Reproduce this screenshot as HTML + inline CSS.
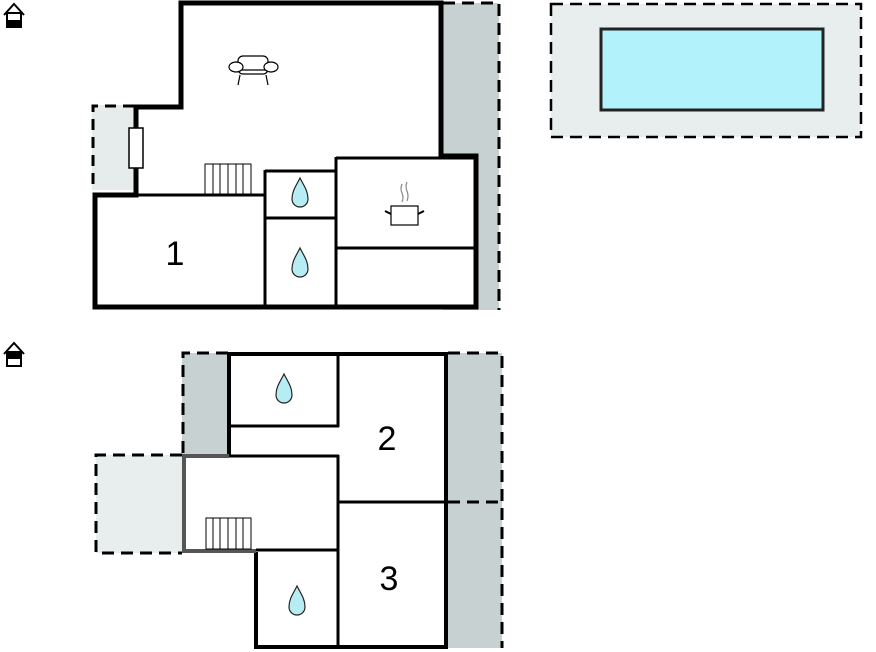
<!DOCTYPE html>
<html><head><style>
html,body{margin:0;padding:0;background:#fff;}
svg{display:block;}
text{font-family:"Liberation Sans",sans-serif;}
</style></head><body>
<svg width="876" height="652" viewBox="0 0 876 652" xmlns="http://www.w3.org/2000/svg">
<defs>
<path id="drop" d="M0,-16 C4,-8 8,-3 8,5 A8,8 0 0 1 -8,5 C-8,-3 -4,-8 0,-16 Z" fill="#b6ecf4" stroke="#222" stroke-width="1.2"/>
</defs>
<!-- home icons -->
<g fill="none" stroke="#000" stroke-width="2">
<polyline points="4,15 14,4 24,15"/>
<rect x="7" y="13" width="14" height="14" fill="#fff"/>
<polyline points="4,354 14,343 24,354"/>
<rect x="7" y="352" width="14" height="14" fill="#fff"/>
</g>
<rect x="7" y="20" width="14" height="7" fill="#000"/>
<rect x="7" y="352" width="14" height="7" fill="#000"/>

<!-- TOP PLAN -->
<rect x="443" y="3" width="56" height="307" fill="#c8d1d1"/>
<path d="M443,3 H499 V310" fill="none" stroke="#000" stroke-width="3" stroke-dasharray="12,7"/>
<rect x="92" y="105" width="42" height="85" fill="#e6ecec"/>
<path d="M134,106 H93 V190" fill="none" stroke="#000" stroke-width="3" stroke-dasharray="11,7"/>
<path d="M181,3 H441 V156 H476 V307 H95 V195 H136 V107 H181 Z" fill="#fff" stroke="#000" stroke-width="5"/>
<rect x="129" y="128" width="14" height="40" fill="#fff" stroke="#000" stroke-width="1.5"/>
<g stroke="#000" stroke-width="3" fill="none">
<line x1="95" y1="195" x2="265" y2="195"/>
<line x1="265" y1="170" x2="265" y2="307"/>
<line x1="265" y1="171" x2="336" y2="171"/>
<line x1="265" y1="218" x2="336" y2="218"/>
<line x1="336" y1="157" x2="336" y2="307"/>
<line x1="336" y1="158" x2="476" y2="158"/>
<line x1="336" y1="248" x2="476" y2="248"/>
</g>
<g stroke="#000" stroke-width="1" fill="#fff">
<rect x="205" y="164" width="46" height="30"/>
<line x1="213" y1="164" x2="213" y2="194"/><line x1="220" y1="164" x2="220" y2="194"/>
<line x1="228" y1="164" x2="228" y2="194"/><line x1="236" y1="164" x2="236" y2="194"/>
<line x1="243" y1="164" x2="243" y2="194"/>
</g>
<use href="#drop" x="300" y="194"/>
<use href="#drop" x="300" y="264"/>
<g stroke="#000" stroke-width="1.2" fill="#fff">
<rect x="238" y="56" width="30" height="18" rx="5"/>
<line x1="238" y1="70" x2="268" y2="70"/>
<ellipse cx="236" cy="67" rx="7" ry="5"/>
<ellipse cx="271" cy="67" rx="7" ry="5"/>
<line x1="240" y1="75" x2="238" y2="85"/><line x1="266" y1="75" x2="268" y2="85"/>
</g>
<g stroke="#000" stroke-width="1.2" fill="#fff">
<rect x="391" y="206" width="27" height="19"/>
<line x1="385" y1="211" x2="391" y2="214" stroke-width="2"/>
<line x1="424" y1="211" x2="418" y2="214" stroke-width="2"/>
<path d="M402,184 q-2,5 0,9 q2,5 0,9 M407,182 q-2,5 0,9 q2,5 0,10" fill="none" stroke="#888"/>
</g>
<text x="175" y="265" font-size="34" text-anchor="middle">1</text>

<!-- POOL -->
<rect x="551" y="4" width="310" height="133" fill="#e8eeee" stroke="#000" stroke-width="2.5" stroke-dasharray="12,7"/>
<rect x="601" y="29" width="222" height="81" fill="#b2f2fb" stroke="#222" stroke-width="3"/>

<!-- BOTTOM PLAN -->
<rect x="448" y="353" width="54" height="295" fill="#c8d1d1"/>
<path d="M448,353 H502 V648 M448,502 H502" fill="none" stroke="#000" stroke-width="3" stroke-dasharray="12,7"/>
<rect x="182" y="353" width="46" height="103" fill="#c8d1d1"/>
<path d="M228,353 H183 V456" fill="none" stroke="#000" stroke-width="3" stroke-dasharray="12,7"/>
<rect x="96" y="455" width="86" height="98" fill="#e8eeee"/>
<path d="M182,455 H96 V553 H182" fill="none" stroke="#000" stroke-width="3" stroke-dasharray="12,7"/>
<path d="M229,354 H446 V647 H256 V550 H184 V456 H229 Z" fill="#fff" stroke="none"/>
<g stroke="#000" stroke-width="4" fill="none">
<polyline points="229,456 229,354 446,354 446,647 256,647 256,552"/>
</g>
<g stroke="#555" stroke-width="4" fill="none">
<polyline points="229,456 184,456 184,551 256,551"/>
</g>
<g stroke="#000" stroke-width="3" fill="none">
<line x1="338" y1="354" x2="338" y2="427"/>
<line x1="229" y1="426" x2="339" y2="426"/>
<line x1="229" y1="456" x2="339" y2="456"/>
<line x1="338" y1="455" x2="338" y2="647"/>
<line x1="338" y1="502" x2="446" y2="502"/>
<line x1="256" y1="550" x2="339" y2="550"/>
</g>
<g stroke="#000" stroke-width="1" fill="#fff">
<rect x="206" y="518" width="45" height="31"/>
<line x1="213" y1="518" x2="213" y2="549"/><line x1="220" y1="518" x2="220" y2="549"/>
<line x1="228" y1="518" x2="228" y2="549"/><line x1="236" y1="518" x2="236" y2="549"/>
<line x1="243" y1="518" x2="243" y2="549"/>
</g>
<use href="#drop" x="284" y="390"/>
<use href="#drop" x="297" y="602"/>
<text x="387" y="450" font-size="34" text-anchor="middle">2</text>
<text x="389" y="590" font-size="34" text-anchor="middle">3</text>
</svg>
</body></html>
